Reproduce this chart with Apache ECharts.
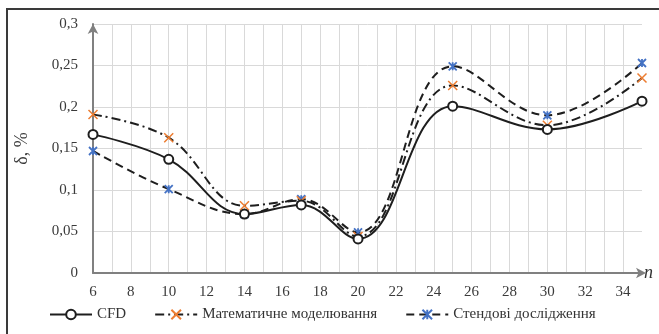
<!DOCTYPE html>
<html>
<head>
<meta charset="utf-8">
<script src="https://cdn.jsdelivr.net/npm/echarts@6/dist/echarts.min.js"></script>
<style>
  html, body { margin: 0; padding: 0; background: #fff; }
  #chart { width: 659px; height: 334px; }
</style>
</head>
<body>
<div id="chart"></div>
<script>
// Number of elements n and relative deviation δ (%) for three methods
const nValues = [6, 10, 14, 17, 20, 25, 30, 35];
const cfd = [0.167, 0.137, 0.071, 0.082, 0.041, 0.201, 0.173, 0.207];
const mathModel = [0.191, 0.163, 0.081, 0.087, 0.044, 0.226, 0.178, 0.235];
const benchTest = [0.147, 0.101, 0.071, 0.089, 0.049, 0.249, 0.190, 0.253];

const seriesNames = ['CFD', 'Математичне моделювання', 'Стендові дослідження'];
const yAxisTitle = 'δ, %';
const xAxisTitle = 'n';

const FONT = '"Liberation Serif", "DejaVu Serif", serif';
const GRID_GRAY = '#d9d9d9';

// vertical grid every unit, right edge left clear
const vLineColors = [];
for (let v = 6; v <= 35; v++) vLineColors.push(v === 35 ? 'rgba(0,0,0,0)' : GRID_GRAY);

const pairs = ys => nValues.map((x, i) => [x, ys[i]]);
const fmtComma = v => String(+v.toFixed(2)).replace('.', ',');

const crossPath = 'path://M0,0L10,10M10,0L0,10';
const starPath = 'path://M0,0L10,10M10,0L0,10M5,0L5,10';

const chart = echarts.init(document.getElementById('chart'), null, { renderer: 'canvas' });
chart.setOption({
  backgroundColor: '#ffffff',
  animation: false,
  textStyle: { fontFamily: FONT },
  graphic: [{
    type: 'polyline',
    shape: { points: [[7, 340], [7, 9], [665, 9]] },
    style: { fill: 'none', stroke: '#3a3a3a', lineWidth: 2 },
    silent: true,
    z: 100
  }],
  grid: { left: 93, right: 17, top: 24, bottom: 61 },
  legend: {
    bottom: 7,
    left: 44,
    itemWidth: 42,
    itemHeight: 12,
    itemGap: 28,
    textStyle: { fontFamily: FONT, fontSize: 15, color: '#333' },
    data: seriesNames
  },
  xAxis: [
    {
      type: 'value',
      min: 6,
      max: 35,
      interval: 2,
      name: xAxisTitle,
      nameLocation: 'end',
      nameGap: 2,
      nameTextStyle: { fontFamily: FONT, fontSize: 18, fontStyle: 'italic', color: '#333', padding: [0, 0, 14, 0] },
      axisLine: {
        show: true,
        symbol: ['none', 'arrow'],
        symbolSize: [8, 10],
        symbolOffset: [0, 4],
        lineStyle: { color: '#808080', width: 2 }
      },
      axisTick: { show: false },
      axisLabel: {
        fontFamily: FONT, fontSize: 15, color: '#3a3a3a', margin: 12,
        showMaxLabel: false,
        formatter: v => (v % 2 === 0 && v < 35) ? String(v) : ''
      },
      splitLine: { show: false }
    },
    {
      // unit-step grid lines only
      type: 'value',
      min: 6,
      max: 35,
      interval: 1,
      position: 'bottom',
      axisLine: { show: false },
      axisTick: { show: false },
      axisLabel: { show: false },
      splitLine: { show: true, lineStyle: { color: vLineColors, width: 1 } }
    }
  ],
  yAxis: {
    type: 'value',
    min: 0,
    max: 0.3,
    interval: 0.05,
    name: yAxisTitle,
    nameLocation: 'middle',
    nameRotate: 90,
    nameGap: 62,
    nameTextStyle: { fontFamily: FONT, fontSize: 18, color: '#3a3a3a' },
    axisLine: {
      show: true,
      symbol: ['none', 'arrow'],
      symbolSize: [8, 10],
      lineStyle: { color: '#808080', width: 2 }
    },
    axisTick: { show: false },
    axisLabel: { fontFamily: FONT, fontSize: 15, color: '#3a3a3a', margin: 15, formatter: fmtComma },
    splitLine: { show: true, lineStyle: { color: GRID_GRAY, width: 1 } }
  },
  series: [
    {
      name: seriesNames[2],
      type: 'line',
      data: pairs(benchTest),
      smooth: 0.4,
      symbol: starPath,
      symbolSize: 8,
      lineStyle: { color: '#1e1e1e', width: 2, type: [8, 5] },
      itemStyle: { color: '#4472c4', borderColor: '#4472c4', borderWidth: 1.8 },
      z: 3
    },
    {
      name: seriesNames[1],
      type: 'line',
      data: pairs(mathModel),
      smooth: 0.4,
      symbol: crossPath,
      symbolSize: 9,
      lineStyle: { color: '#1e1e1e', width: 2, type: [9, 4, 2, 4] },
      itemStyle: { color: '#ed7d31', borderColor: '#ed7d31', borderWidth: 1.5 },
      z: 4
    },
    {
      name: seriesNames[0],
      type: 'line',
      data: pairs(cfd),
      smooth: 0.4,
      symbol: 'circle',
      symbolSize: 9,
      showAllSymbol: true,
      lineStyle: { color: '#1e1e1e', width: 2 },
      itemStyle: { color: '#ffffff', borderColor: '#1e1e1e', borderWidth: 2 },
      z: 5
    }
  ]
});
</script>
</body>
</html>
